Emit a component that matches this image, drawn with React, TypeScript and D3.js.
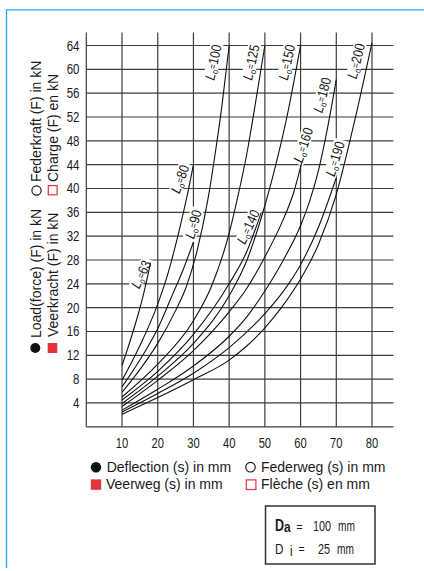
import React from "react";
import * as d3 from "d3";

// Axis ticks
const xTicks = [10, 20, 30, 40, 50, 60, 70, 80];
const yTicks = [4, 8, 12, 16, 20, 24, 28, 32, 36, 40, 44, 48, 52, 56, 60, 64];

// Spring curves: [deflection s (mm), load F (kN)] for each free length Lo
const lo63: [number, number][] = [[10, 10.3], [12, 13.9], [14, 17.8], [16, 22.2], [18, 27.5]];
const lo80: [number, number][] = [[10, 7.8], [15, 13.6], [20, 20.6], [23, 26], [25, 30.5], [27, 35.5], [28.5, 39.5], [30, 44]];
const lo90: [number, number][] = [[10, 6.7], [15, 11.2], [20, 16.5], [24, 22], [27, 26.2], [30, 31]];
const lo100: [number, number][] = [[10, 5.8], [15, 9.6], [20, 14], [25, 19.5], [28, 23.5], [31, 29.5], [34, 38], [36, 45.5], [38, 54], [40, 64]];
const lo125: [number, number][] = [[10, 5], [20, 10.5], [30, 17.8], [35, 23.5], [40, 32.5], [42, 37.5], [45, 46], [47, 53], [50, 64]];
const lo140: [number, number][] = [[10, 4.5], [20, 9.3], [30, 15.5], [40, 24], [45, 29.5], [49, 36]];
const lo150: [number, number][] = [[10, 3.9], [20, 8.5], [30, 14], [40, 22], [45, 28], [48.7, 34.5], [52, 41.5], [56, 51.5], [60, 64]];
const lo160: [number, number][] = [[10, 3.4], [20, 7.8], [30, 12.8], [40, 19.3], [45, 23.3], [50, 28.5], [55, 34.6], [58, 39.2], [60.3, 44.3]];
const lo180: [number, number][] = [[10, 2.8], [20, 6.3], [30, 10.2], [40, 15.2], [45, 18.5], [50, 22.8], [55, 27.8], [60, 33.8], [62.5, 37.8], [65, 43], [67.5, 50], [70, 58.3]];
const lo190: [number, number][] = [[10, 2.5], [20, 5.6], [30, 9], [40, 13.3], [50, 19], [55, 22.6], [60, 27.2], [65, 33.5], [70, 41.8]];
const lo200: [number, number][] = [[10, 2.1], [20, 4.9], [30, 7.9], [40, 11.2], [45, 13.6], [50, 16.6], [55, 20.3], [60, 24.8], [65, 30.6], [70, 39], [75, 51], [80, 64.5]];

const freeLengths = [63, 80, 90, 100, 125, 140, 150, 160, 180, 190, 200];
const curves = [lo63, lo80, lo90, lo100, lo125, lo140, lo150, lo160, lo180, lo190, lo200];

const RED = "#e5323c";
const INK = "#1a1a1a";
const GRID = "#3d3d3d";
const FRAME = "#1fa9e1";
const SANS = "'Liberation Sans', Arial, Helvetica, sans-serif";

function Cond(props: {
  x: number; y: number; sx?: number; size?: number; anchor?: string;
  weight?: string | number; fill?: string; children: React.ReactNode;
}) {
  const { x, y, sx = 0.8, size = 14, anchor = "start", weight = "normal", fill = INK, children } = props;
  return (
    <text
      transform={`translate(${x},${y}) scale(${sx},1)`}
      textAnchor={anchor as any}
      fontSize={size}
      fontWeight={weight as any}
      fontFamily={SANS}
      fill={fill}
    >
      {children}
    </text>
  );
}

export default function App() {
  const x = d3.scaleLinear().domain([0, 80]).range([86.3, 372]);
  const y = d3.scaleLinear().domain([0, 64]).range([426.8, 45.5]);
  const line = d3
    .line<[number, number]>()
    .x((d) => x(d[0]))
    .y((d) => y(d[1]))
    .curve(d3.curveMonotoneX);

  const gridTop = y(66.2);
  const gridRight = x(86);

  // curve label placement in data units (s, F) and rotation
  const labels = [
    { lo: 63, s: 15.3, f: 25.6, a: -65 },
    { lo: 80, s: 26.2, f: 41.6, a: -70 },
    { lo: 90, s: 29.9, f: 34.0, a: -74 },
    { lo: 100, s: 35.5, f: 61.2, a: -78 },
    { lo: 125, s: 46.1, f: 61.2, a: -78 },
    { lo: 140, s: 45.3, f: 33.6, a: -65 },
    { lo: 150, s: 56.1, f: 61.2, a: -78 },
    { lo: 160, s: 60.7, f: 47.3, a: -72 },
    { lo: 180, s: 66.0, f: 55.7, a: -75 },
    { lo: 190, s: 69.6, f: 45.0, a: -73 },
    { lo: 200, s: 75.5, f: 61.4, a: -76 },
  ];

  return (
    <svg
      width={424}
      height={571}
      viewBox="0 0 424 571"
      style={{ position: "absolute", left: 0, top: 0, background: "#fff" }}
    >
      <rect x={0} y={0} width={424} height={571} fill="#fff" />
      {/* page frame */}
      <path d={`M6.5,568 V9.8 H424`} fill="none" stroke={FRAME} strokeWidth={1.3} />

      {/* grid */}
      <g stroke={GRID} strokeWidth={1.2}>
        {[0, ...xTicks].map((t) => (
          <line key={"v" + t} x1={x(t)} x2={x(t)} y1={gridTop} y2={y(0)} />
        ))}
        {[0, ...yTicks].map((t) => (
          <line key={"h" + t} x1={x(0)} x2={gridRight} y1={y(t)} y2={y(t)} />
        ))}
      </g>

      {/* tick labels */}
      {yTicks.map((t) => (
        <Cond key={"yl" + t} x={79.5} y={y(t) + 5} anchor="end" sx={0.82}>
          {t}
        </Cond>
      ))}
      {xTicks.map((t) => (
        <Cond key={"xl" + t} x={x(t)} y={448.3} anchor="middle" sx={0.8}>
          {t}
        </Cond>
      ))}

      {/* label backgrounds */}
      {labels.map((l) => {
        const w = l.lo < 100 ? 34 : 40;
        return (
          <g key={"lb" + l.lo} transform={`translate(${x(l.s)},${y(l.f)}) rotate(${l.a})`}>
            <rect x={-w / 2} y={-6.5} width={w} height={13} fill="#fff" />
          </g>
        );
      })}

      {/* spring curves */}
      <g fill="none" stroke="#111" strokeWidth={1.1}>
        {curves.map((c, i) => (
          <path key={"c" + freeLengths[i]} d={line(c) || ""} />
        ))}
      </g>

      {/* curve labels */}
      {labels.map((l) => (
        <g key={"lt" + l.lo} transform={`translate(${x(l.s)},${y(l.f)}) rotate(${l.a})`}>
          <text
            transform="scale(0.85,1)"
            y={5}
            textAnchor="middle"
            fontSize={14}
            fontFamily={SANS}
            fill={INK}
          >
            <tspan fontStyle="italic">L</tspan>
            <tspan fontSize={9} dy={2}>o</tspan>
            <tspan fontSize={10} dy={-3}>=</tspan>
            <tspan dy={1}>{l.lo}</tspan>
          </text>
        </g>
      ))}

      {/* vertical axis title */}
      <circle cx={35.3} cy={348} r={5} fill="#111" />
      <text transform="translate(40.5,338) rotate(-90)" fontSize={14} fontFamily={SANS} fill={INK}>
        Load(force) (F) in kN
      </text>
      <circle cx={36.5} cy={190.5} r={4.6} fill="none" stroke="#111" strokeWidth={1.1} />
      <text transform="translate(40.5,182) rotate(-90)" fontSize={14} fontFamily={SANS} fill={INK}>
        Federkraft (F) in kN
      </text>
      <rect x={47.7} y={343} width={9.6} height={10} fill={RED} />
      <text transform="translate(57.5,337) rotate(-90)" fontSize={14} fontFamily={SANS} fill={INK}>
        Veerkracht (F) in kN
      </text>
      <rect x={48.3} y={185.6} width={8.8} height={9.2} fill="none" stroke={RED} strokeWidth={1.2} />
      <text transform="translate(57.5,182) rotate(-90)" fontSize={14} fontFamily={SANS} fill={INK}>
        Charge (F) en kN
      </text>

      {/* horizontal axis legend */}
      <circle cx={96} cy={467.3} r={5.2} fill="#111" />
      <text x={106.7} y={472.3} fontSize={14} fontFamily={SANS} fill={INK}>
        Deflection (s) in mm
      </text>
      <circle cx={250.5} cy={467.2} r={4.8} fill="none" stroke="#111" strokeWidth={1.1} />
      <text x={261} y={472.3} fontSize={14} fontFamily={SANS} fill={INK}>
        Federweg (s) in mm
      </text>
      <rect x={90.8} y={479.4} width={10.4} height={10.4} fill={RED} />
      <text x={106} y={488.5} fontSize={14} fontFamily={SANS} fill={INK}>
        Veerweg (s) in mm
      </text>
      <rect x={246.3} y={479.9} width={9.6} height={9.6} fill="none" stroke={RED} strokeWidth={1.2} />
      <text x={261} y={488.5} fontSize={14} fontFamily={SANS} fill={INK}>
        Flèche (s) en mm
      </text>

      {/* dimensions box */}
      <rect x={265.5} y={506} width={109.5} height={58} fill="none" stroke="#333" strokeWidth={1.5} />
      <Cond x={275} y={531} size={16} weight="bold" sx={0.78}>D</Cond>
      <Cond x={284} y={532} size={14} weight="bold" sx={0.85}>a</Cond>
      <Cond x={296.5} y={530.5} size={13} sx={0.8}>=</Cond>
      <Cond x={313} y={531} size={14.5} sx={0.75}>100</Cond>
      <Cond x={338} y={531} size={14.5} sx={0.7}>mm</Cond>
      <Cond x={275} y={553.5} size={15} sx={0.78}>D</Cond>
      <Cond x={290} y={556} size={14} sx={0.85}>i</Cond>
      <Cond x={298.5} y={553} size={13} sx={0.8}>=</Cond>
      <Cond x={318} y={553.5} size={14.5} sx={0.75}>25</Cond>
      <Cond x={337} y={553.5} size={14.5} sx={0.7}>mm</Cond>
    </svg>
  );
}
